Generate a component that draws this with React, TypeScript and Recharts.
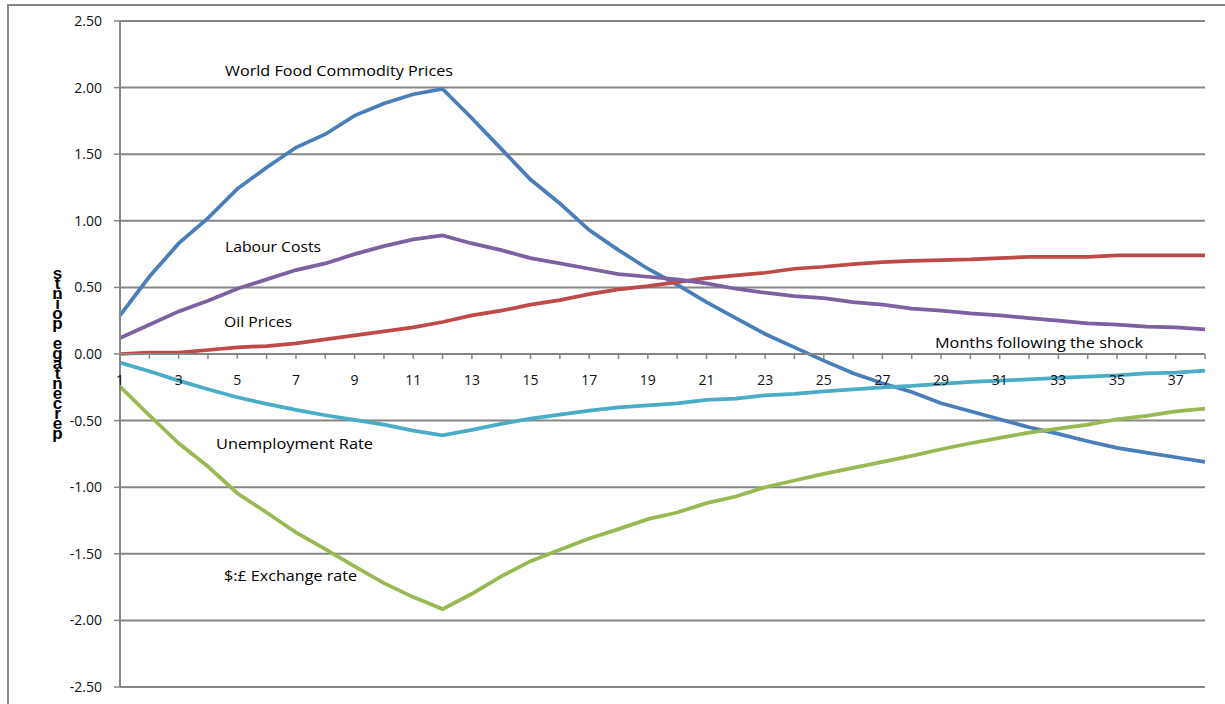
import React from 'react';
import { LineChart, Line, XAxis, YAxis, CartesianGrid } from 'recharts';

const months = [1, 2, 3, 4, 5, 6, 7, 8, 9, 10, 11, 12, 13, 14, 15, 16, 17, 18, 19, 20, 21, 22, 23, 24, 25, 26, 27, 28, 29, 30, 31, 32, 33, 34, 35, 36, 37, 38];

const worldFoodPrices = [0.29, 0.58, 0.83, 1.02, 1.24, 1.4, 1.55, 1.65, 1.79, 1.88, 1.95, 1.99, 1.77, 1.54, 1.31, 1.13, 0.93, 0.78, 0.64, 0.52, 0.39, 0.27, 0.15, 0.05, -0.05, -0.145, -0.22, -0.285, -0.37, -0.43, -0.49, -0.55, -0.6, -0.655, -0.705, -0.74, -0.775, -0.81];

const labourCosts = [0.12, 0.22, 0.32, 0.4, 0.49, 0.56, 0.63, 0.68, 0.75, 0.81, 0.86, 0.89, 0.83, 0.78, 0.72, 0.68, 0.64, 0.6, 0.58, 0.56, 0.53, 0.49, 0.46, 0.435, 0.42, 0.39, 0.37, 0.34, 0.325, 0.305, 0.29, 0.27, 0.25, 0.23, 0.22, 0.205, 0.2, 0.185];

const oilPrices = [0.0, 0.01, 0.01, 0.03, 0.05, 0.06, 0.08, 0.11, 0.14, 0.17, 0.2, 0.24, 0.29, 0.325, 0.37, 0.405, 0.45, 0.485, 0.51, 0.54, 0.57, 0.59, 0.61, 0.64, 0.655, 0.675, 0.69, 0.7, 0.705, 0.71, 0.72, 0.73, 0.73, 0.73, 0.74, 0.74, 0.74, 0.74];

const unemploymentRate = [-0.065, -0.13, -0.2, -0.265, -0.325, -0.375, -0.42, -0.46, -0.495, -0.53, -0.575, -0.61, -0.57, -0.525, -0.485, -0.455, -0.425, -0.4, -0.385, -0.37, -0.345, -0.335, -0.31, -0.3, -0.28, -0.265, -0.25, -0.24, -0.225, -0.21, -0.2, -0.19, -0.18, -0.17, -0.16, -0.145, -0.14, -0.125];

const exchangeRate = [-0.245, -0.46, -0.67, -0.845, -1.045, -1.19, -1.34, -1.465, -1.595, -1.72, -1.825, -1.915, -1.8, -1.67, -1.555, -1.47, -1.385, -1.315, -1.24, -1.19, -1.12, -1.07, -1.0, -0.95, -0.9, -0.855, -0.81, -0.765, -0.715, -0.67, -0.63, -0.59, -0.56, -0.53, -0.49, -0.465, -0.43, -0.41];

const yTicks = [-2.5, -2.0, -1.5, -1.0, -0.5, 0, 0.5, 1.0, 1.5, 2.0, 2.5];

const yAxisTitle = 'percentage points';

const data = months.map((m, i) => ({
  month: m,
  food: worldFoodPrices[i],
  labour: labourCosts[i],
  oil: oilPrices[i],
  unemp: unemploymentRate[i],
  fx: exchangeRate[i],
}));

const GRID = '#868686';
const FONT = '"Open Sans", "Liberation Sans", sans-serif';

const annotations = [
  { text: 'World Food Commodity Prices', x: 225, y: 76, w: 228 },
  { text: 'Labour Costs', x: 225, y: 252, w: 96 },
  { text: 'Oil Prices', x: 224, y: 327, w: 68 },
  { text: 'Months following the shock', x: 935, y: 348, w: 208 },
  { text: 'Unemployment Rate', x: 216, y: 449, w: 157 },
  { text: '$:£ Exchange rate', x: 224, y: 580.5, w: 133 },
];

const MonthTick = (props: any) => {
  const { x, y, payload } = props;
  const v = Number(payload.value);
  if (v % 2 !== 1) return <g />;
  return (
    <text x={x} y={y} dy="0.71em" textAnchor="middle" fontFamily={FONT} fontSize={14} fill="#111">
      {String(v)}
    </text>
  );
};

export default function App() {
  return (
    <div style={{ position: 'absolute', left: 0, top: 0, width: 1225, height: 704, background: '#fff' }}>
      <div
        style={{
          position: 'absolute',
          left: 7,
          top: 4,
          width: 1216,
          height: 698,
          borderTop: `2px solid ${GRID}`,
          borderLeft: `2px solid ${GRID}`,
        }}
      />
      <div style={{ position: 'absolute', left: 0, top: 0 }}>
        <LineChart width={1225} height={704} data={data} margin={{ top: 21, right: 20, bottom: 17, left: 60 }}>
          <CartesianGrid vertical={false} stroke={GRID} strokeWidth={2} />
          <XAxis dataKey="month" hide />
          <YAxis
            width={60}
            domain={[-2.5, 2.5]}
            ticks={yTicks}
            interval={0}
            tickSize={6}
            tickMargin={12}
            axisLine={{ stroke: GRID, strokeWidth: 2 }}
            tickLine={{ stroke: GRID, strokeWidth: 1.5 }}
            tick={{ fill: '#111', fontSize: 14, fontFamily: FONT }}
            tickFormatter={(v: number) => v.toFixed(2)}
          />
          <Line type="linear" dataKey="food" stroke="#4A7EBB" strokeWidth={3.75} dot={false} isAnimationActive={false} />
          <Line type="linear" dataKey="oil" stroke="#BE4B48" strokeWidth={3.75} dot={false} isAnimationActive={false} />
          <Line type="linear" dataKey="labour" stroke="#7D60A0" strokeWidth={3.75} dot={false} isAnimationActive={false} />
          <Line type="linear" dataKey="fx" stroke="#98B954" strokeWidth={3.75} dot={false} isAnimationActive={false} />
          <Line type="linear" dataKey="unemp" stroke="#4BACC6" strokeWidth={3.75} dot={false} isAnimationActive={false} />
        </LineChart>
      </div>
      {/* x axis drawn at the zero line */}
      <div style={{ position: 'absolute', left: 0, top: 0, pointerEvents: 'none' }}>
        <LineChart width={1225} height={394} data={data} margin={{ top: 21, right: 20, bottom: 0, left: 60 }}>
          <XAxis
            dataKey="month"
            ticks={months}
            height={40}
            interval={0}
            tickSize={5}
            tickMargin={16}
            axisLine={{ stroke: GRID, strokeWidth: 2 }}
            tickLine={{ stroke: GRID, strokeWidth: 1.5 }}
            tick={MonthTick}
          />
          <YAxis width={60} domain={[0, 2.5]} tick={false} axisLine={false} tickLine={false} />
          <Line dataKey="oil" stroke="none" dot={false} isAnimationActive={false} />
        </LineChart>
      </div>
      <svg width={1225} height={704} style={{ position: 'absolute', left: 0, top: 0, pointerEvents: 'none' }}>
        {annotations.map((a) => (
          <text
            key={a.text}
            x={a.x}
            y={a.y}
            textLength={a.w}
            lengthAdjust="spacingAndGlyphs"
            fontFamily={FONT}
            fontSize={15}
            fill="#000"
          >
            {a.text}
          </text>
        ))}
      </svg>
      <div
        style={{
          position: 'absolute',
          left: 46,
          top: 262,
          height: 172,
          width: 22,
          writingMode: 'vertical-rl',
          textOrientation: 'upright',
          direction: 'rtl',
          unicodeBidi: 'bidi-override',
          fontFamily: '"Liberation Sans", sans-serif',
          fontWeight: 'bold',
          fontSize: 17,
          letterSpacing: '-9px',
          lineHeight: '22px',
          color: '#000',
          whiteSpace: 'nowrap',
        }}
      >
        {yAxisTitle}
      </div>
    </div>
  );
}
